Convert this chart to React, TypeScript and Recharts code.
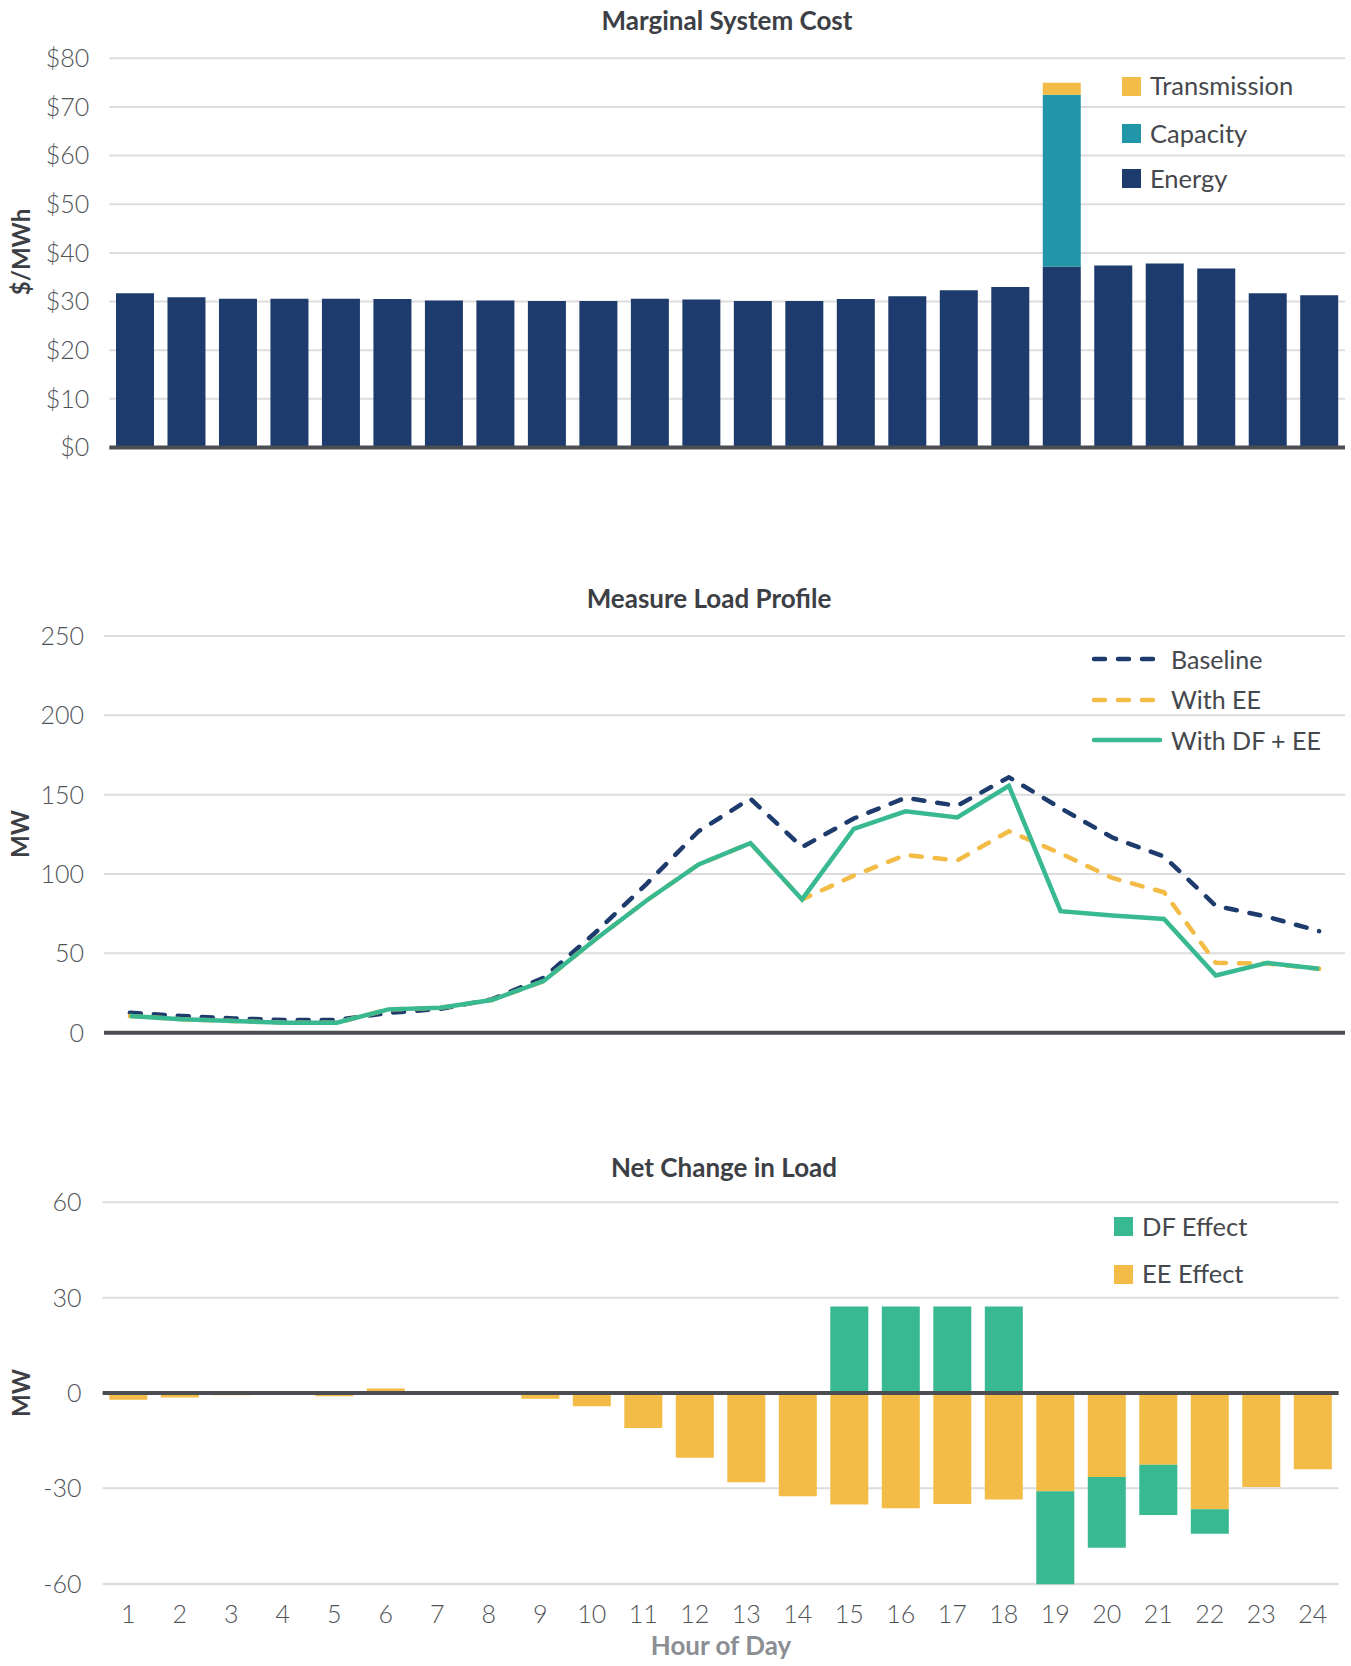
import React from 'react';
import { BarChart, Bar, LineChart, Line, XAxis, YAxis, CartesianGrid, ReferenceLine } from 'recharts';

// ---------- data ----------
const hours = ['1','2','3','4','5','6','7','8','9','10','11','12','13','14','15','16','17','18','19','20','21','22','23','24'];

// Marginal System Cost ($/MWh)
const energyCost = [31.7, 30.9, 30.6, 30.6, 30.6, 30.5, 30.2, 30.2, 30.1, 30.1, 30.6, 30.4, 30.1, 30.1, 30.5, 31.1, 32.3, 33.0, 37.2, 37.4, 37.8, 36.8, 31.7, 31.3];
const capacityCost = [0,0,0,0,0,0,0,0,0,0,0,0,0,0,0,0,0,0,35.3,0,0,0,0,0];
const transmissionCost = [0,0,0,0,0,0,0,0,0,0,0,0,0,0,0,0,0,0,2.5,0,0,0,0,0];
const costTicks = [0, 10, 20, 30, 40, 50, 60, 70, 80];

// Measure Load Profile (MW)
const baselineLoad = [12.5, 10.5, 9, 8, 8, 12.5, 15, 21, 34.5, 63, 94, 127, 147.5, 117, 135, 148, 143, 161, 141.5, 123, 111, 80, 73, 64];
const withEELoad = [10.5, 8.5, 7.3, 6.3, 6.3, 14.7, 15.7, 20.6, 32.5, 58.7, 83.5, 106, 119.5, 84, 99, 112, 108.5, 127, 113, 97.5, 88.5, 44, 43.6, 40.3];
const withDFEELoad = [10.5, 8.5, 7.3, 6.3, 6.3, 14.7, 15.7, 20.6, 32.5, 58.7, 83.5, 106, 119.5, 84, 128.5, 139.5, 135.7, 155.6, 76.6, 73.8, 71.7, 36.1, 44, 40.3];
const loadTicks = [0, 50, 100, 150, 200, 250];

// Net Change in Load (MW)
const eeEffect = [-2.1, -1.4, -0.7, -0.2, -1.0, 1.4, 0, 0, -1.8, -4.2, -11, -20.4, -28.1, -32.5, -35.1, -36.3, -34.9, -33.5, -30.9, -26.4, -22.6, -36.6, -29.6, -24.0];
const dfEffect = [0,0,0,0,0,0,0,0,0,0,0,0,0,0, 27.2, 27.2, 27.2, 27.2, -29.3, -22.3, -15.8, -7.7, 0, 0];
const changeTicks = [-60, -30, 0, 30, 60];

// ---------- styling ----------
const NAVY = '#1d3b6c';
const TEAL = '#2196a8';
const GOLD = '#f3bc46';
const GREEN = '#38b991';
const GRID = '#dddddd';
const AXIS = '#4a4d52';
const TITLE = '#3c4045';
const TICK = '#505356';
const FONT = 'Lato, "Open Sans", sans-serif';

const costData = hours.map((h, i) => ({ hour: h, energy: energyCost[i], capacity: capacityCost[i], transmission: transmissionCost[i] }));
const loadData = hours.map((h, i) => ({ hour: h, baseline: baselineLoad[i], withEE: withEELoad[i], withDFEE: withDFEELoad[i] }));
const changeData = hours.map((h, i) => ({ hour: h, ee: eeEffect[i], df: dfEffect[i] }));

const Txt = ({ x, y, children, size = 24, weight = 400, color = TITLE, rotate = 0, anchor = 'center' }: any) => (
  <div
    style={{
      position: 'absolute',
      left: x,
      top: y,
      transform: anchor === 'center' ? `translate(-50%,-50%) rotate(${rotate}deg)` : 'translateY(-50%)',
      whiteSpace: 'nowrap',
      fontSize: size,
      fontWeight: weight,
      color,
      lineHeight: 1,
    }}
  >
    {children}
  </div>
);

const Swatch = ({ x, y, color }: any) => (
  <div style={{ position: 'absolute', left: x, top: y - 9.5, width: 19, height: 19, background: color }} />
);

const LineSwatch = ({ x, y, color, dashed }: any) => (
  <svg style={{ position: 'absolute', left: x, top: y - 5 }} width={72} height={10}>
    <line x1={3} y1={5} x2={dashed ? 66 : 69} y2={5} stroke={color} strokeWidth={4.5}
      strokeDasharray={dashed ? '11 13' : undefined} strokeLinecap="round" />
  </svg>
);

const tickStyle = { fontSize: 25, fill: TICK, fontFamily: FONT, fontWeight: 300 };

export default function App() {
  return (
    <div style={{ position: 'absolute', left: 0, top: 0, width: 1351, height: 1666, background: '#fff', fontFamily: FONT, overflow: 'hidden' }}>
      {/* ---------- Top chart ---------- */}
      <div style={{ position: 'absolute', left: 0, top: 0 }}>
        <BarChart width={1351} height={470} data={costData} margin={{ top: 58.3, right: 6, bottom: 22.5, left: 0 }} barCategoryGap="13%">
          <CartesianGrid vertical={false} stroke={GRID} strokeWidth={2} />
          <XAxis dataKey="hour" hide />
          <YAxis width={109.3} domain={[0, 80]} ticks={costTicks} tickFormatter={(v: number) => '$' + v}
            axisLine={false} tickLine={false} tickSize={0} tickMargin={20} tick={tickStyle} />
          <Bar dataKey="energy" stackId="c" fill={NAVY} isAnimationActive={false} />
          <Bar dataKey="capacity" stackId="c" fill={TEAL} isAnimationActive={false} />
          <Bar dataKey="transmission" stackId="c" fill={GOLD} isAnimationActive={false} />
          <ReferenceLine y={0} stroke={AXIS} strokeWidth={4} />
        </BarChart>
      </div>
      <Txt x={727} y={20} weight={700} size={26}>Marginal System Cost</Txt>
      <Txt x={21} y={252} weight={700} size={24} rotate={-90}>$/MWh</Txt>
      <Swatch x={1122} y={86} color={GOLD} />
      <Txt x={1150} y={86} anchor="left" size={25.5} color="#45484c">Transmission</Txt>
      <Swatch x={1122} y={133.5} color={TEAL} />
      <Txt x={1150} y={134} anchor="left" size={25.5} color="#45484c">Capacity</Txt>
      <Swatch x={1122} y={178.5} color={NAVY} />
      <Txt x={1150} y={179} anchor="left" size={25.5} color="#45484c">Energy</Txt>

      {/* ---------- Middle chart ---------- */}
      <div style={{ position: 'absolute', left: 0, top: 560 }}>
        <LineChart width={1351} height={490} data={loadData} margin={{ top: 76, right: 6, bottom: 17.3, left: 0 }}>
          <CartesianGrid vertical={false} stroke={GRID} strokeWidth={2} />
          <XAxis dataKey="hour" hide scale="point" padding={{ left: 25.85, right: 25.85 }} />
          <YAxis width={104} domain={[0, 250]} ticks={loadTicks}
            axisLine={false} tickLine={false} tickSize={0} tickMargin={20} tick={tickStyle} />
          <ReferenceLine y={0} stroke={AXIS} strokeWidth={4} />
          <Line type="linear" dataKey="baseline" stroke={NAVY} strokeWidth={4.5} strokeDasharray="11 13" strokeLinecap="round" dot={false} isAnimationActive={false} />
          <Line type="linear" dataKey="withEE" stroke={GOLD} strokeWidth={4.5} strokeDasharray="11 13" strokeLinecap="round" dot={false} isAnimationActive={false} />
          <Line type="linear" dataKey="withDFEE" stroke={GREEN} strokeWidth={4.5} dot={false} isAnimationActive={false} />
        </LineChart>
      </div>
      <Txt x={709} y={598} weight={700} size={26}>Measure Load Profile</Txt>
      <Txt x={20} y={834} weight={700} size={24} rotate={-90}>MW</Txt>
      <LineSwatch x={1091} y={659} color={NAVY} dashed />
      <Txt x={1171} y={659} anchor="left" size={25} color="#45484c">Baseline</Txt>
      <LineSwatch x={1091} y={699.5} color={GOLD} dashed />
      <Txt x={1171} y={699} anchor="left" size={25} color="#45484c">With EE</Txt>
      <LineSwatch x={1091} y={740} color={GREEN} />
      <Txt x={1171} y={739.5} anchor="left" size={25} color="#45484c">With DF + EE</Txt>

      {/* ---------- Bottom chart ---------- */}
      <div style={{ position: 'absolute', left: 0, top: 1140 }}>
        <BarChart width={1351} height={500} data={changeData} stackOffset="sign" margin={{ top: 62.3, right: 12.4, bottom: 15.7, left: 0 }} barCategoryGap="13%">
          <CartesianGrid vertical={false} stroke={GRID} strokeWidth={2} />
          <XAxis dataKey="hour" height={40} interval={0} axisLine={false} tickLine={false} tickSize={0} tickMargin={21} tick={tickStyle} />
          <YAxis width={102.6} domain={[-60, 60]} ticks={changeTicks}
            axisLine={false} tickLine={false} tickSize={0} tickMargin={21} tick={tickStyle} />
          <Bar dataKey="ee" stackId="n" fill={GOLD} isAnimationActive={false} />
          <Bar dataKey="df" stackId="n" fill={GREEN} isAnimationActive={false} />
          <ReferenceLine y={0} stroke={AXIS} strokeWidth={4} />
        </BarChart>
      </div>
      <Txt x={724} y={1167} weight={700} size={26}>Net Change in Load</Txt>
      <Txt x={21} y={1393} weight={700} size={24} rotate={-90}>MW</Txt>
      <Txt x={721} y={1645} weight={700} size={26} color="#8b8e92">Hour of Day</Txt>
      <Swatch x={1114} y={1226.5} color={GREEN} />
      <Txt x={1142} y={1227} anchor="left" size={25.5} color="#45484c">DF Effect</Txt>
      <Swatch x={1114} y={1274} color={GOLD} />
      <Txt x={1142} y={1274} anchor="left" size={25.5} color="#45484c">EE Effect</Txt>
    </div>
  );
}
